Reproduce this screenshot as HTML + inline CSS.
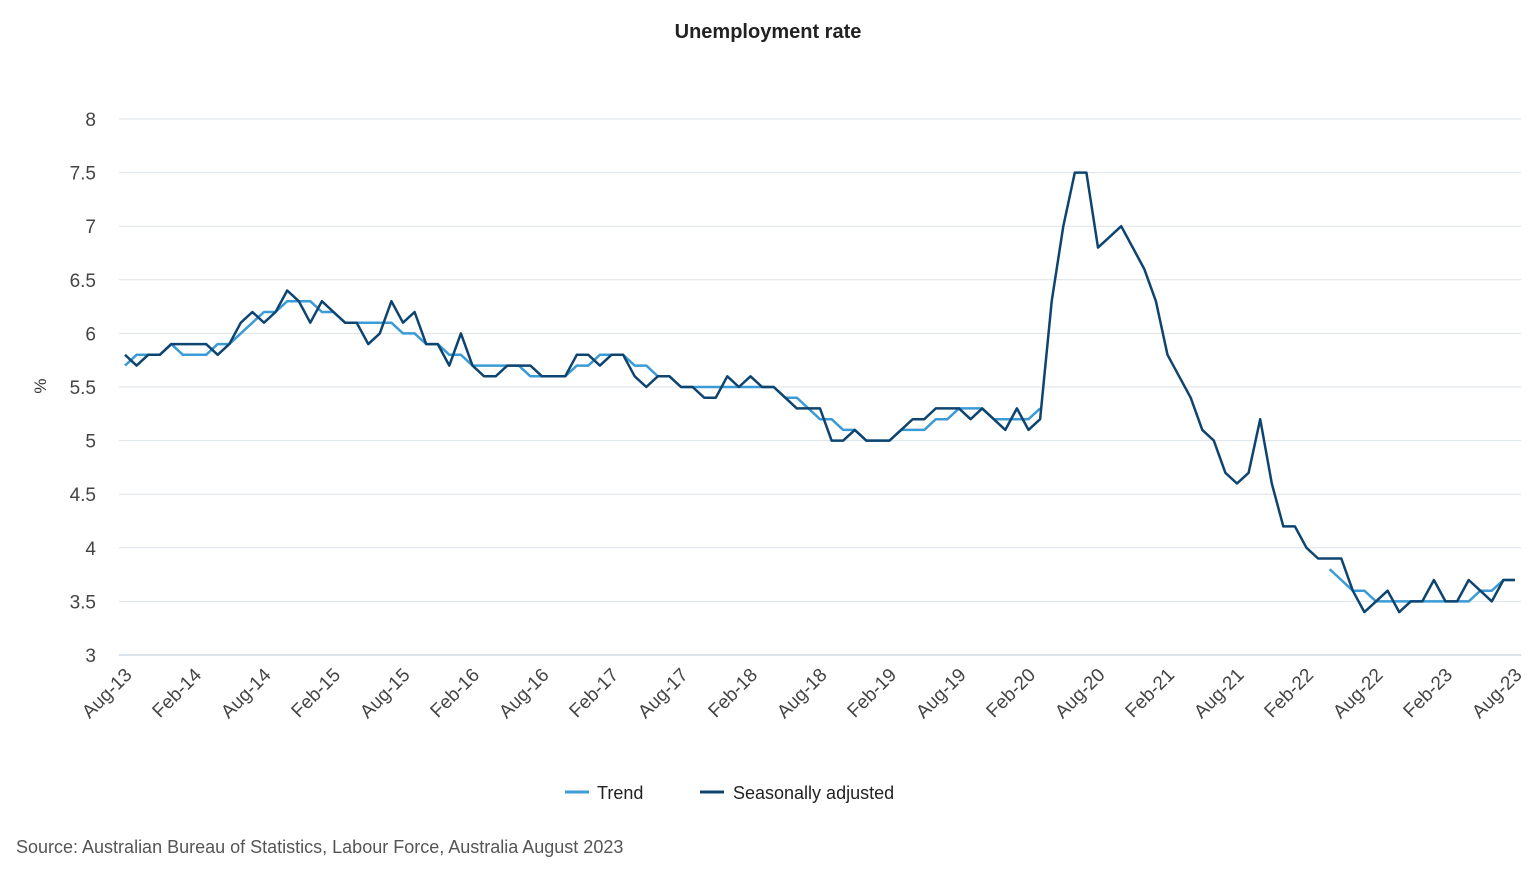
<!DOCTYPE html>
<html><head><meta charset="utf-8"><style>
body{margin:0;background:#fff;font-family:"Liberation Sans",sans-serif;}
svg text{font-family:"Liberation Sans",sans-serif;}
</style></head><body>
<svg id="chart" width="1536" height="884" xmlns="http://www.w3.org/2000/svg">
<text x="768" y="38" text-anchor="middle" font-size="20" font-weight="bold" fill="#222">Unemployment rate</text>
<g id="grid"></g>
<g id="yticks"></g>
<g id="xticks"></g>
<text transform="translate(46,386) rotate(-90)" text-anchor="middle" font-size="17" fill="#333">%</text>
<g id="series"></g>
<g>
<g><line x1="565" y1="792" x2="589" y2="792" stroke="#3a9bd5" stroke-width="3"/><text x="597" y="799" font-size="18" fill="#222">Trend</text></g>
<g><line x1="700" y1="792" x2="724" y2="792" stroke="#0e4470" stroke-width="3"/><text x="733" y="799" font-size="18" fill="#222">Seasonally adjusted</text></g>
</g>
<text x="16" y="853" font-size="18" fill="#555">Source: Australian Bureau of Statistics, Labour Force, Australia August 2023</text>
</svg>
<script>
const yTicks=[3,3.5,4,4.5,5,5.5,6,6.5,7,7.5,8];
const xLabels=["Aug-13","Feb-14","Aug-14","Feb-15","Aug-15","Feb-16","Aug-16","Feb-17","Aug-17","Feb-18","Aug-18","Feb-19","Aug-19","Feb-20","Aug-20","Feb-21","Aug-21","Feb-22","Aug-22","Feb-23","Aug-23"];
const seasonal=[
5.8,5.7,5.8,5.8,5.9,5.9,5.9,5.9,5.8,5.9,
6.1,6.2,6.1,6.2,6.4,6.3,6.1,6.3,6.2,6.1,
6.1,5.9,6.0,6.3,6.1,6.2,5.9,5.9,5.7,6.0,
5.7,5.6,5.6,5.7,5.7,5.7,5.6,5.6,5.6,5.8,
5.8,5.7,5.8,5.8,5.6,5.5,5.6,5.6,5.5,5.5,
5.4,5.4,5.6,5.5,5.6,5.5,5.5,5.4,5.3,5.3,
5.3,5.0,5.0,5.1,5.0,5.0,5.0,5.1,5.2,5.2,
5.3,5.3,5.3,5.2,5.3,5.2,5.1,5.3,5.1,5.2,
6.3,7.0,7.5,7.5,6.8,6.9,7.0,6.8,6.6,6.3,
5.8,5.6,5.4,5.1,5.0,4.7,4.6,4.7,5.2,4.6,
4.2,4.2,4.0,3.9,3.9,3.9,3.6,3.4,3.5,3.6,
3.4,3.5,3.5,3.7,3.5,3.5,3.7,3.6,3.5,3.7,
3.7];
const trend=[
5.7,5.8,5.8,5.8,5.9,5.8,5.8,5.8,5.9,5.9,
6.0,6.1,6.2,6.2,6.3,6.3,6.3,6.2,6.2,6.1,
6.1,6.1,6.1,6.1,6.0,6.0,5.9,5.9,5.8,5.8,
5.7,5.7,5.7,5.7,5.7,5.6,5.6,5.6,5.6,5.7,
5.7,5.8,5.8,5.8,5.7,5.7,5.6,5.6,5.5,5.5,
5.5,5.5,5.5,5.5,5.5,5.5,5.5,5.4,5.4,5.3,
5.2,5.2,5.1,5.1,5.0,5.0,5.0,5.1,5.1,5.1,
5.2,5.2,5.3,5.3,5.3,5.2,5.2,5.2,5.2,5.3,
null,null,null,null,null,null,null,null,null,null,
null,null,null,null,null,null,null,null,null,null,
null,null,null,null,3.8,3.7,3.6,3.6,3.5,3.5,
3.5,3.5,3.5,3.5,3.5,3.5,3.5,3.6,3.6,3.7,
3.7];
const NS="http://www.w3.org/2000/svg";
const X0=125,X1=1515,Y0=655,Y1=119,YMIN=3,YMAX=8,N=120;
const xs=i=>X0+(X1-X0)*i/N;
const ys=v=>Y0-(Y0-Y1)*(v-YMIN)/(YMAX-YMIN);
function mk(tag,attrs,parent){const e=document.createElementNS(NS,tag);for(const k in attrs)e.setAttribute(k,attrs[k]);parent.appendChild(e);return e;}
const grid=document.getElementById('grid'),yt=document.getElementById('yticks'),xt=document.getElementById('xticks'),ser=document.getElementById('series');
yTicks.forEach(v=>{
 const l=mk('line',{x1:119,x2:1521,y1:ys(v),y2:ys(v),stroke:v===3?'#b8c4d8':'#dde3ea','stroke-width':1},grid);
 
 
 const t=mk('text',{x:96,y:ys(v)+7,'text-anchor':'end','font-size':19,fill:'#444'},yt);
 t.textContent=v;
 
 
});
xLabels.forEach((s,k)=>{
 const x=xs(k*6);
 const t=mk('text',{transform:`translate(${x+8},${676}) rotate(-45)`,'text-anchor':'end','font-size':19,fill:'#444'},xt);
 t.textContent=s;
 
 
});
function drawLine(arr,color,name){
 let d='',pen=false;
 arr.forEach((v,i)=>{if(v==null){pen=false;return;}d+=(pen?'L':'M')+xs(i).toFixed(1)+' '+ys(v).toFixed(1);pen=true;});
 const p=mk('path',{d:d,fill:'none',stroke:color,'stroke-width':2.5,'stroke-linejoin':'round'},ser);
 
 
}
drawLine(trend,'#3a9bd5','trend-line');
drawLine(seasonal,'#0e4470','seasonally-adjusted-line');
</script>
</body></html>
